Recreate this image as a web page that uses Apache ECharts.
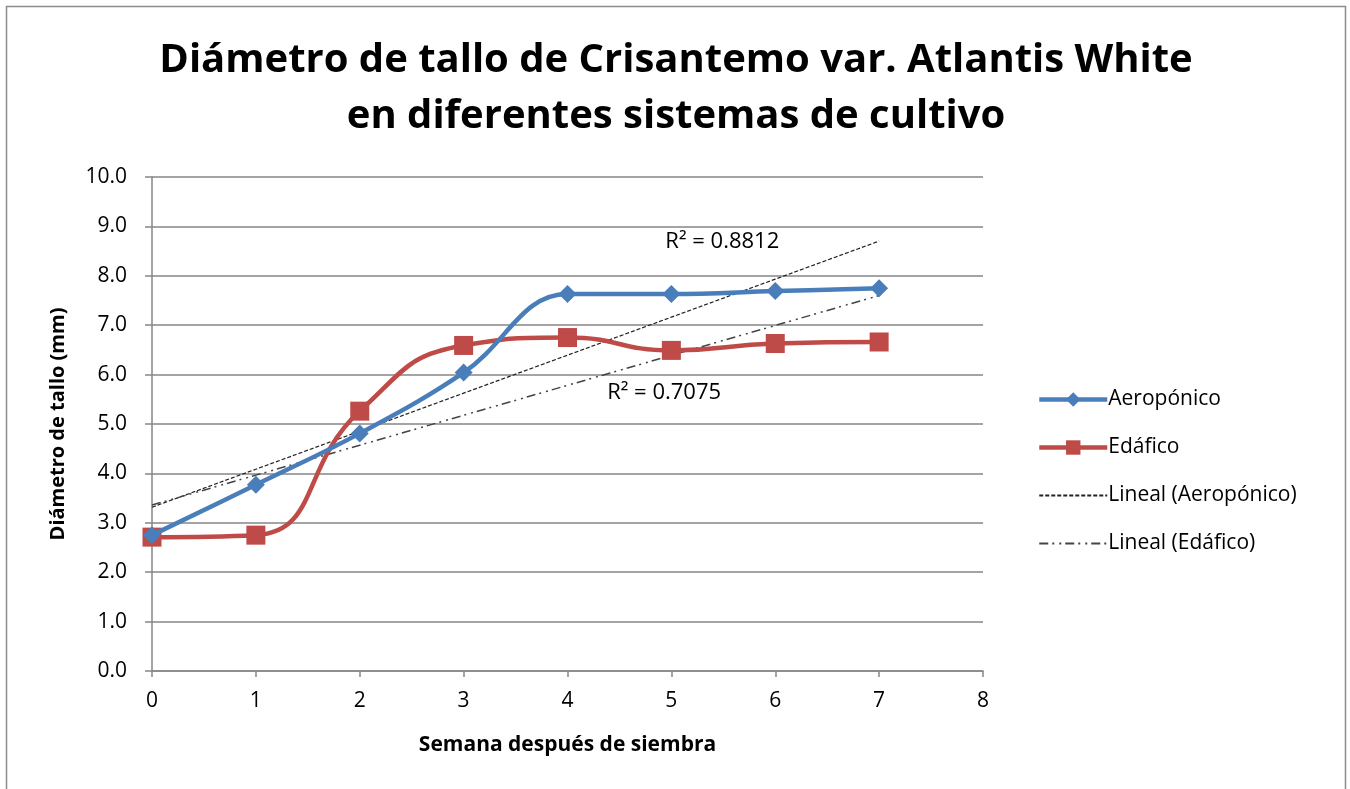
<!DOCTYPE html>
<html>
<head>
<meta charset="utf-8">
<script src="https://cdn.jsdelivr.net/npm/echarts@6/dist/echarts.min.js"></script>
<style>
  html, body { margin: 0; padding: 0; background: #fff; }
  #chart { width: 1350px; height: 789px; }
</style>
</head>
<body>
<div id="chart"></div>
<script>
  // semanas después de siembra
  const semanas = [0, 1, 2, 3, 4, 5, 6, 7]
  const aeroponico = [2.75, 3.77, 4.81, 6.04, 7.63, 7.63, 7.69, 7.75]
  const edafico = [2.71, 2.75, 5.26, 6.59, 6.75, 6.49, 6.63, 6.66]
  const r2Aero = 'R² = 0.8812'
  const r2Edaf = 'R² = 0.7075'

  const FONT = 'Open Sans'

  // regresion lineal simple (linea de tendencia como en excel)
  function lineal (xs, ys) {
    const n = xs.length
    const mx = xs.reduce((a, b) => a + b, 0) / n
    const my = ys.reduce((a, b) => a + b, 0) / n
    let sxy = 0, sxx = 0
    for (let i = 0; i < n; i++) {
      sxy += (xs[i] - mx) * (ys[i] - my)
      sxx += (xs[i] - mx) * (xs[i] - mx)
    }
    const m = sxy / sxx
    const b = my - m * mx
    return xs.map(x => [x, m * x + b])
  }

  const tendAero = lineal(semanas, aeroponico)
  const tendEdaf = lineal(semanas, edafico)

  // etiqueta R² sobre la linea de tendencia
  function etiqueta (coord, texto) {
    return {
      symbol: 'circle',
      symbolSize: 1,
      itemStyle: { color: 'transparent' },
      data: [{ coord: coord }],
      label: {
        show: true,
        position: 'inside',
        formatter: texto,
        fontFamily: FONT,
        fontSize: 22,
        color: '#000'
      }
    }
  }

  const chartObj = echarts.init(document.getElementById('chart'))
  const options = {
    backgroundColor: '#fff',
    animation: false,
    textStyle: { fontFamily: FONT },
    graphic: [
      {
        type: 'rect',
        shape: { x: 6.5, y: 6.5, width: 1339, height: 800 },
        style: { fill: 'none', stroke: '#8c8c8c', lineWidth: 1.5 },
        silent: true
      },
      {
        type: 'text',
        x: 676,
        y: 89,
        style: {
          text: 'Diámetro de tallo de Crisantemo var. Atlantis White\nen diferentes sistemas de cultivo',
          font: 'bold 40px "Open Sans"',
          fill: '#000',
          textAlign: 'center',
          textVerticalAlign: 'middle',
          lineHeight: 56
        },
        silent: true
      }
    ],
    legend: {
      orient: 'vertical',
      left: 1032,
      top: 384,
      itemWidth: 68,
      itemHeight: 18,
      itemGap: 27,
      textStyle: { fontFamily: FONT, fontSize: 21, color: '#000', padding: [0, 0, 0, -4] },
      data: [
        { name: 'Aeropónico', lineStyle: { width: 4.5 } },
        { name: 'Edáfico', lineStyle: { width: 4.5 } },
        { name: 'Lineal (Aeropónico)', itemStyle: { opacity: 0 } },
        { name: 'Lineal (Edáfico)', itemStyle: { opacity: 0 } }
      ]
    },
    grid: {
      left: 152,
      right: 367,
      top: 177,
      bottom: 118
    },
    xAxis: {
      type: 'value',
      min: 0,
      max: 8,
      interval: 1,
      name: 'Semana después de siembra',
      nameLocation: 'middle',
      nameGap: 64,
      nameTextStyle: { fontFamily: FONT, fontSize: 21, fontWeight: 'bold', color: '#000' },
      axisLine: { show: true, lineStyle: { color: '#868686', width: 1.5 } },
      axisTick: { show: true, length: 6, inside: false, lineStyle: { color: '#868686', width: 1.5 } },
      axisLabel: { fontFamily: FONT, fontSize: 21, color: '#000', margin: 20 },
      splitLine: { show: false }
    },
    yAxis: {
      type: 'value',
      min: 0,
      max: 10,
      interval: 1,
      name: 'Diámetro de tallo (mm)',
      nameLocation: 'middle',
      nameGap: 84,
      nameRotate: 90,
      nameTextStyle: { fontFamily: FONT, fontSize: 20, fontWeight: 'bold', color: '#000' },
      axisLine: { show: true, lineStyle: { color: '#868686', width: 1.5 } },
      axisTick: { show: true, length: 7, lineStyle: { color: '#868686', width: 1.5 } },
      axisLabel: {
        fontFamily: FONT,
        fontSize: 21,
        color: '#000',
        margin: 25,
        formatter: v => v.toFixed(1)
      },
      splitLine: { show: true, lineStyle: { color: '#868686', width: 1.5 } }
    },
    series: [
      {
        name: 'Lineal (Aeropónico)',
        type: 'line',
        data: tendAero,
        symbol: 'none',
        z: 1,
        lineStyle: { color: '#222', width: 1.2, type: [4, 2] },
        itemStyle: { color: '#222' },
        markPoint: etiqueta([5.49, 8.68], r2Aero)
      },
      {
        name: 'Lineal (Edáfico)',
        type: 'line',
        data: tendEdaf,
        symbol: 'none',
        z: 1,
        lineStyle: { color: '#444', width: 1.5, type: [9, 4, 2, 5, 2, 4] },
        itemStyle: { color: '#444' },
        markPoint: etiqueta([4.93, 5.64], r2Edaf)
      },
      {
        name: 'Aeropónico',
        type: 'line',
        data: semanas.map((x, i) => [x, aeroponico[i]]),
        smooth: 0.4,
        symbol: 'diamond',
        symbolSize: 18,
        z: 3,
        lineStyle: { color: '#4A7EBB', width: 4.5 },
        itemStyle: { color: '#4A7EBB' }
      },
      {
        name: 'Edáfico',
        type: 'line',
        data: semanas.map((x, i) => [x, edafico[i]]),
        smooth: 0.5,
        symbol: 'rect',
        symbolSize: 19,
        z: 2,
        lineStyle: { color: '#BE4B48', width: 4.5 },
        itemStyle: { color: '#BE4B48' }
      }
    ]
  }
  chartObj.setOption(options)
</script>
</body>
</html>
